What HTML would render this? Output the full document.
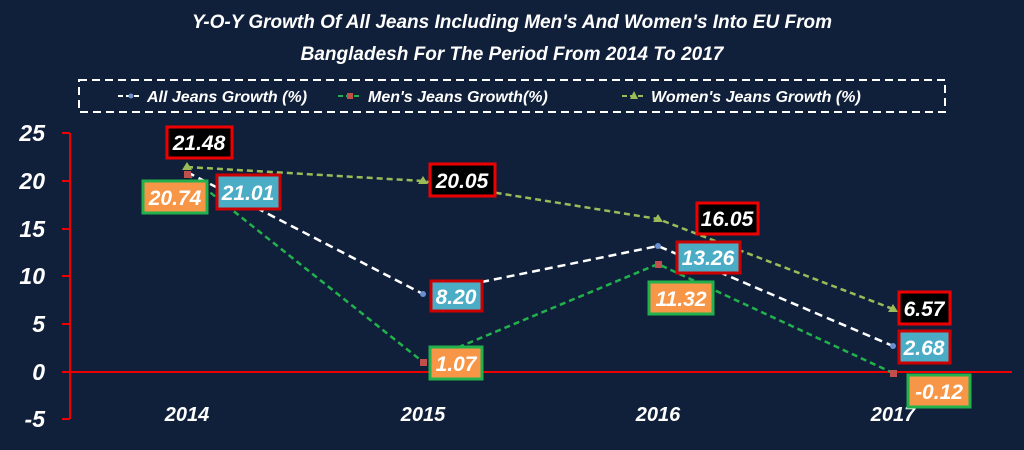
<!DOCTYPE html><html><head><style>
body{margin:0;background:#10203a;}
svg text{font-family:"Liberation Sans",sans-serif;font-weight:bold;font-style:italic;fill:#fff}
</style></head><body>
<svg width="1024" height="445" xmlns="http://www.w3.org/2000/svg">
<rect width="1024" height="445" fill="#10203a"/>
<text x="512" y="28" font-size="19" text-anchor="middle">Y-O-Y Growth Of All Jeans Including Men's And Women's Into EU From</text>
<text x="512" y="60" font-size="19" text-anchor="middle">Bangladesh For The Period From 2014 To 2017</text>
<rect x="79" y="80" width="866" height="32" fill="none" stroke="#fff" stroke-width="2" stroke-dasharray="8,5"/>
<line x1="118" y1="96" x2="142" y2="96" stroke="#fff" stroke-width="2" stroke-dasharray="5,3"/><circle cx="131" cy="96" r="2.5" fill="#6a8fd0"/>
<text x="147" y="102" font-size="16">All Jeans Growth (%)</text>
<line x1="338" y1="96" x2="362" y2="96" stroke="#22b14c" stroke-width="2" stroke-dasharray="5,3"/><rect x="347" y="93" width="6" height="6" fill="#c0504d"/>
<text x="368" y="102" font-size="16">Men's Jeans Growth(%)</text>
<line x1="622" y1="96" x2="646" y2="96" stroke="#9bbb59" stroke-width="2" stroke-dasharray="5,3"/><polygon points="634,91 638,99 630,99" fill="#9bbb59"/>
<text x="651" y="102" font-size="16">Women's Jeans Growth (%)</text>
<g stroke="#e00" stroke-width="2" fill="none">
<line x1="70" y1="133" x2="70" y2="419"/>
<line x1="62" y1="133" x2="70" y2="133"/><line x1="62" y1="181" x2="70" y2="181"/><line x1="62" y1="229" x2="70" y2="229"/><line x1="62" y1="276" x2="70" y2="276"/><line x1="62" y1="324" x2="70" y2="324"/><line x1="62" y1="372" x2="70" y2="372"/><line x1="62" y1="419" x2="70" y2="419"/>
<line x1="70" y1="372" x2="1012" y2="372"/>
</g>
<g font-size="23" text-anchor="end">
<text x="45" y="141">25</text><text x="45" y="189">20</text><text x="45" y="237">15</text><text x="45" y="284">10</text><text x="45" y="332">5</text><text x="45" y="380">0</text><text x="45" y="427">-5</text>
</g>
<g font-size="20" text-anchor="middle">
<text x="187" y="421">2014</text><text x="423" y="421">2015</text><text x="658" y="421">2016</text><text x="893" y="421">2017</text>
</g>
<polyline points="187,167 423,181 658,219 893,309" fill="none" stroke="#9bbb59" stroke-width="2.5" stroke-dasharray="6,4"/>
<polyline points="187,172 423,294 658,246 893,346" fill="none" stroke="#fff" stroke-width="2.5" stroke-dasharray="8,5"/>
<polyline points="187,174 423,362 658,264 893,373" fill="none" stroke="#22b14c" stroke-width="2.5" stroke-dasharray="6,4"/>
<g fill="#9bbb59"><polygon points="187,162 192,170 182,170"/><polygon points="423,176 428,184 418,184"/><polygon points="658,214 663,222 653,222"/><polygon points="893,304 898,312 888,312"/></g>
<g fill="#c0504d"><rect x="184" y="171" width="7" height="7"/><rect x="420" y="359" width="7" height="7"/><rect x="655" y="261" width="7" height="7"/><rect x="890" y="370" width="7" height="7"/></g>
<g fill="#6a8fd0"><circle cx="423" cy="294" r="3"/><circle cx="658" cy="246" r="3"/><circle cx="893" cy="346" r="3"/></g>
<g stroke-width="3">
<rect x="167" y="127" width="65" height="31" fill="#000" stroke="#e00"/>
<rect x="430" y="164" width="65" height="32" fill="#000" stroke="#e00"/>
<rect x="697" y="203" width="61" height="31" fill="#000" stroke="#e00"/>
<rect x="899" y="292" width="51" height="32" fill="#000" stroke="#e00"/>
<rect x="143" y="181" width="64" height="32" fill="#f79646" stroke="#22b14c"/>
<rect x="430" y="347" width="52" height="32" fill="#f79646" stroke="#22b14c"/>
<rect x="649" y="282" width="64" height="32" fill="#f79646" stroke="#22b14c"/>
<rect x="908" y="375" width="62" height="32" fill="#f79646" stroke="#22b14c"/>
<rect x="217" y="175" width="63" height="34" fill="#4bacc6" stroke="#c00"/>
<rect x="431" y="281" width="51" height="30" fill="#4bacc6" stroke="#c00"/>
<rect x="677" y="242" width="63" height="31" fill="#4bacc6" stroke="#c00"/>
<rect x="899" y="331" width="51" height="32" fill="#4bacc6" stroke="#c00"/>
</g>
<g font-size="21" text-anchor="middle">
<text x="199" y="150">21.48</text><text x="462" y="188">20.05</text><text x="727" y="226">16.05</text><text x="924" y="316">6.57</text>
<text x="175" y="205">20.74</text><text x="456" y="371">1.07</text><text x="681" y="306">11.32</text><text x="939" y="399">-0.12</text>
<text x="248" y="200">21.01</text><text x="456" y="304">8.20</text><text x="708" y="265">13.26</text><text x="924" y="355">2.68</text>
</g>
</svg>
</body></html>
